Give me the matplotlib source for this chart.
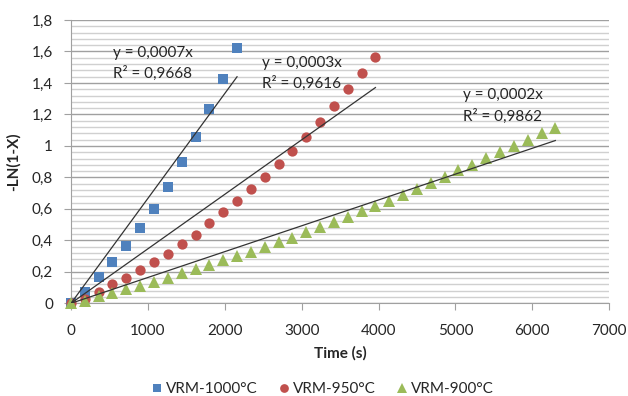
import numpy as np
import matplotlib
matplotlib.use("Agg")
import matplotlib.pyplot as plt
from matplotlib.ticker import MultipleLocator, FuncFormatter

plt.rcParams['font.family'] = ['Lato', 'DejaVu Sans']

step = 180
t1000 = [i * step for i in range(13)]
y1000 = [0, 0.074, 0.169, 0.260, 0.364, 0.477, 0.599, 0.741, 0.896, 1.058, 1.232, 1.423, 1.624]

t950 = [i * step for i in range(23)]
y950 = [0, 0.03, 0.074, 0.122, 0.164, 0.21, 0.26, 0.314, 0.374, 0.433, 0.508, 0.578,
        0.65, 0.724, 0.80, 0.883, 0.97, 1.057, 1.154, 1.254, 1.36, 1.465, 1.565]

t900 = [i * step for i in range(36)]
y900 = [0, 0.017, 0.046, 0.063, 0.089, 0.11, 0.137, 0.163, 0.19, 0.216, 0.243, 0.275,
        0.302, 0.328, 0.36, 0.388, 0.417, 0.451, 0.487, 0.518, 0.55, 0.586, 0.618, 0.652,
        0.688, 0.726, 0.762, 0.804, 0.847, 0.879, 0.921, 0.963, 1.0, 1.038, 1.08, 1.116]

labels = ['VRM-1000°C', 'VRM-950°C', 'VRM-900°C']
eq_texts = [('y = 0,0007x', 'R² = 0,9668'),
            ('y = 0,0003x', 'R² = 0,9616'),
            ('y = 0,0002x', 'R² = 0,9862')]

FS = 11
TXT = '#262626'

fig = plt.figure(figsize=(6.28, 3.96), dpi=100)
ax = fig.add_axes([0.113, 0.234, 0.857, 0.7155])

ax.set_xlim(0, 7000)
ax.set_ylim(0, 1.8)
ax.xaxis.set_major_locator(MultipleLocator(1000))
ax.yaxis.set_major_locator(MultipleLocator(0.2))
ax.yaxis.set_minor_locator(MultipleLocator(0.04))
ax.yaxis.grid(True, which='major', color='#a0a0a0', lw=1.0)
ax.yaxis.grid(True, which='minor', color='#d0d0d0', lw=1.0)
ax.set_axisbelow(True)

def fmt(v, pos):
    return ('%g' % round(v, 2)).replace('.', ',')
ax.yaxis.set_major_formatter(FuncFormatter(fmt))

for sp in ['top', 'right']:
    ax.spines[sp].set_visible(False)
for sp in ['left', 'bottom']:
    ax.spines[sp].set_color('#a0a0a0')
ax.tick_params(axis='both', which='major', color='#a0a0a0', length=5, labelsize=FS,
               labelcolor=TXT)
ax.tick_params(axis='y', which='minor', length=0)
ax.tick_params(axis='x', pad=10)
ax.tick_params(axis='y', pad=8)

series = [
    (t1000, y1000, 's', '#4f81bd', 6.8),
    (t950, y950, 'o', '#c0504d', 7.4),
    (t900, y900, '^', '#9bbb59', 8.4),
]
handles = []
for (t, y, m, c, ms), lab in zip(series, labels):
    t = np.asarray(t, float)
    y = np.asarray(y, float)
    h, = ax.plot(t, y, linestyle='none', marker=m, color=c, markersize=ms,
                 markeredgewidth=0, label=lab, zorder=3, clip_on=False)
    handles.append(h)
    slope = np.sum(t * y) / np.sum(t * t)
    xs = np.array([0, t.max()])
    ax.plot(xs, slope * xs, color='#333333', lw=0.9, zorder=4)

pos = [(546, 1.59), (2484, 1.527), (5100, 1.323)]
for (x, y), (a, b) in zip(pos, eq_texts):
    ax.text(x, y, a, fontsize=FS, color=TXT, va='center', ha='left', zorder=5)
    ax.text(x, y - 0.132, b, fontsize=FS, color=TXT, va='center', ha='left', zorder=5)

ax.set_xlabel('Time (s)', fontsize=FS, fontweight='bold', labelpad=6, color=TXT)
ax.set_ylabel('-LN(1-X)', fontsize=FS, fontweight='bold', labelpad=8, color=TXT)

fig.legend(handles=handles, labels=labels, loc='center', bbox_to_anchor=(0.512, 0.018),
           ncol=3, frameon=False, fontsize=FS, handletextpad=0.1, columnspacing=1.2,
           handlelength=1.0, markerscale=0.85, labelcolor=TXT)

fig.savefig('out.png', dpi=100)
